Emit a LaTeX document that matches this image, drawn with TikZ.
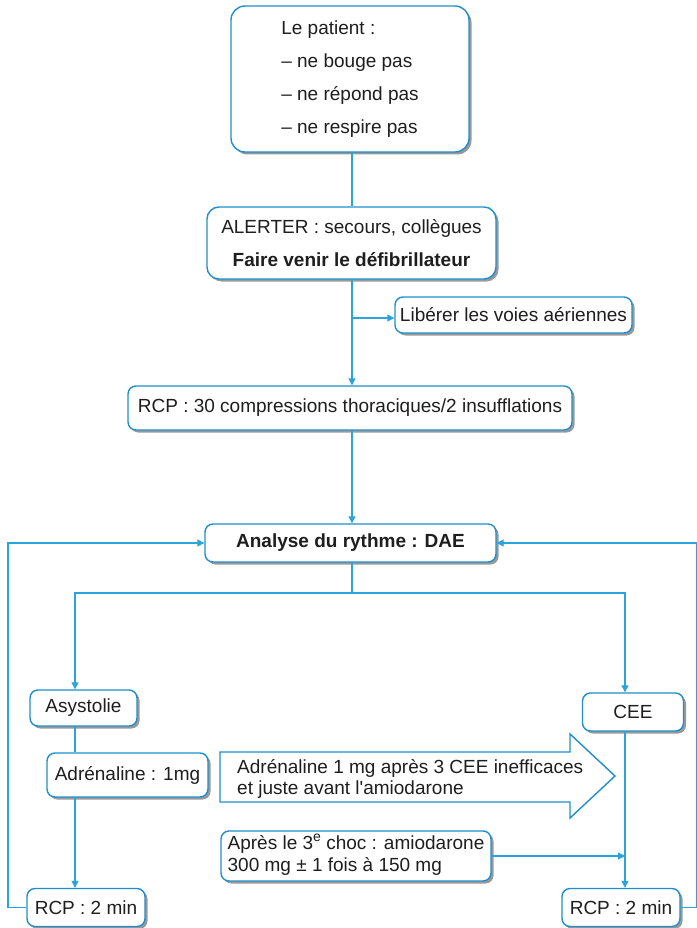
\documentclass[tikz,border=0pt]{standalone}
\usepackage{fontspec}
\setmainfont{Liberation Sans}
\usetikzlibrary{shadows,arrows.meta}
\definecolor{lblue}{HTML}{2BA3DC}
\definecolor{bblue}{HTML}{1E8FCC}
\definecolor{txt}{HTML}{1E1E1E}
\begin{document}
\begin{tikzpicture}[x=1pt,y=-1pt,
  box/.style={draw=bblue, line width=1.4pt, fill=white, rounded corners=8pt,
    drop shadow={shadow xshift=2.5pt, shadow yshift=-2.5pt, fill=black!40, opacity=1},
    inner sep=0pt, text=txt, font=\fontsize{19}{33}\selectfont},
  conn/.style={draw=lblue, line width=1.2pt},
  arr/.style={conn, -{Triangle[length=7pt,width=7pt]}}
]
\useasboundingbox (0,0) rectangle (696,928);
\coordinate (t) at (352,0);
\coordinate (l) at (75,0);
\coordinate (r) at (625,0);

\node[box, rounded corners=14pt, minimum width=238pt, minimum height=146pt, align=left] (pat) at (350,79)
  {Le patient :\\– ne bouge pas\\– ne répond pas\\– ne respire pas};
\node[box, rounded corners=12pt, minimum width=289pt, minimum height=72pt, align=center] (alert) at (351.5,243)
  {ALERTER : secours, collègues\\\textbf{Faire venir le défibrillateur}};
\node[box, minimum width=237pt, minimum height=36pt] (lib) at (513.5,315) {Libérer les voies aériennes};
\node[box, minimum width=444pt, minimum height=44pt] (rcp) at (350,408) {RCP : 30 compressions thoraciques/2 insufflations};
\node[box, minimum width=291pt, minimum height=38pt, font=\fontsize{19}{23}\selectfont\bfseries] (ana) at (350.5,543) {Analyse du rythme : DAE};
\node[box, minimum width=107pt, minimum height=36pt] (asy) at (83.5,708) {Asystolie};
\node[box, minimum width=161pt, minimum height=44pt] (adr) at (127.5,775) {Adrénaline : 1mg};
\node[box, minimum width=118pt, minimum height=38pt] (rcpl) at (86,907.5) {RCP : 2 min};
\node[box, minimum width=101pt, minimum height=38pt] (cee) at (633,712) {CEE};
\node[box, minimum width=270pt, minimum height=50pt, font=\fontsize{19}{22}\selectfont] (apr) at (356,856)
  {\begin{tabular}{@{}l@{}}Après le 3\raisebox{0.42em}{\fontsize{14}{14}\selectfont e} choc : amiodarone\\[0pt]300 mg ± 1 fois à 150 mg\end{tabular}};
\node[box, minimum width=118pt, minimum height=38pt] (rcpr) at (621,907.5) {RCP : 2 min};

% big arrow
\draw[draw=bblue, line width=1.4pt, fill=white, line join=miter]
  (220,752) -- (570,752) -- (570,734) -- (615,776) -- (570,818) -- (570,802) -- (220,802) -- cycle;
\node[anchor=west, inner sep=0pt, align=left, text=txt, font=\fontsize{19}{20.5}\selectfont] (big) at (237,779)
  {Adrénaline 1 mg après 3 CEE inefficaces\\et juste avant l\textquotesingle amiodarone};

% connectors
\draw[conn] (pat.south -| t) -- (alert.north -| t);
\draw[arr] (alert.south -| t) -- (rcp.north -| t);
\coordinate (lb) at (352,318);
\draw[arr] (lb) -- (lb -| lib.west);
\draw[arr] (rcp.south -| t) -- (ana.north -| t);
\coordinate (sp) at (352,593);
\draw[conn] (ana.south -| t) -- (sp);
\draw[arr] (sp) -| (asy.north -| l);
\draw[arr] (sp) -| (cee.north -| r);
\draw[conn] (asy.south -| l) -- (adr.north -| l);
\draw[arr] (adr.south -| l) -- (rcpl.north -| l);
\draw[arr] (cee.south -| r) -- (rcpr.north -| r);
\draw[arr] (apr.east) -- (apr.east -| r);
\coordinate (ll) at (8,0);
\coordinate (rr) at (697,0);
\draw[arr] (rcpl.west) -- (rcpl.west -| ll) |- (ana.west);
\draw[arr] (rcpr.east) -- (rcpr.east -| rr) |- (ana.east);
\end{tikzpicture}
\end{document}
